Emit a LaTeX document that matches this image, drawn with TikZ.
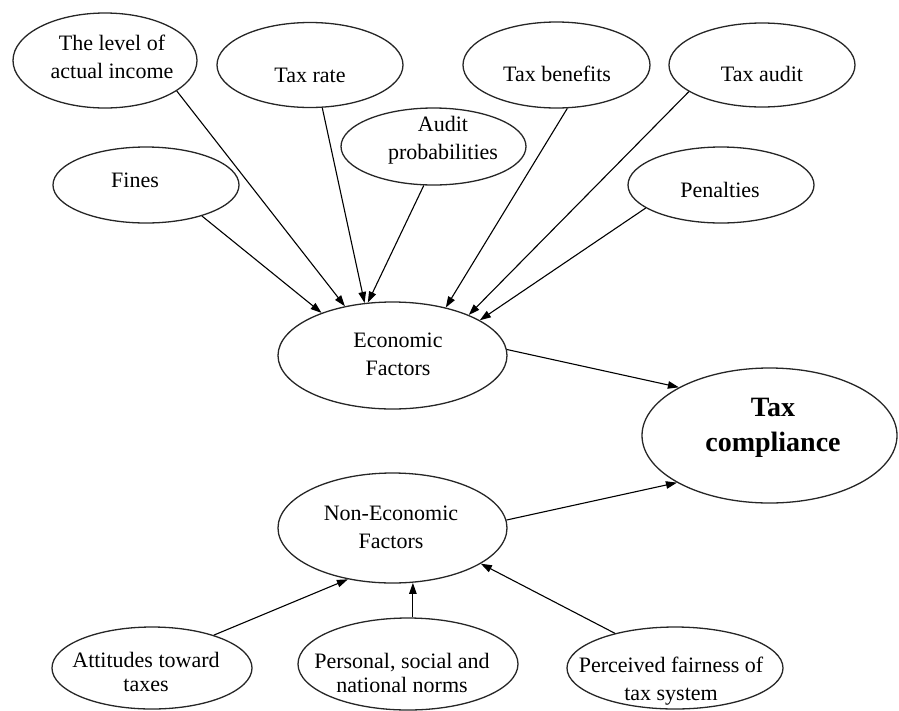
\documentclass[tikz,border=0pt]{standalone}
\usepackage{fontspec}
\setmainfont{Liberation Serif}
\usetikzlibrary{shapes.geometric,arrows.meta}
\begin{document}
\begin{tikzpicture}[x=1pt,y=-1pt,
  ell/.style={ellipse, draw=black!85, line width=1.3pt, inner sep=0pt},
  txt/.style={align=center, inner sep=0pt, font=\fontsize{22}{28}\selectfont},
  arr/.style={-{Triangle[length=11pt,width=7.5pt]}, line width=1.1pt, black}]
\useasboundingbox (0,0) rectangle (899,710);
% ellipses
\node[ell, minimum width=184, minimum height=95] (lev) at (105,60.5) {};
\node[ell, minimum width=186, minimum height=85] (rate) at (310,65) {};
\node[ell, minimum width=185, minimum height=77] (aud) at (433.5,146.5) {};
\node[ell, minimum width=187, minimum height=86] (ben) at (556.5,65) {};
\node[ell, minimum width=186, minimum height=84] (taud) at (762,65) {};
\node[ell, minimum width=186, minimum height=76] (fin) at (146,185) {};
\node[ell, minimum width=186, minimum height=76] (pen) at (721,185) {};
\node[ell, minimum width=229, minimum height=107] (eco) at (392.5,355.5) {};
\node[ell, minimum width=255, minimum height=135] (comp) at (769.5,435.5) {};
\node[ell, minimum width=229, minimum height=110] (non) at (392.5,528) {};
\node[ell, minimum width=200, minimum height=82] (att) at (152,668) {};
\node[ell, minimum width=220, minimum height=92] (nor) at (408,664) {};
\node[ell, minimum width=216, minimum height=82] (per) at (675,668) {};
% texts
\node[txt] (levt) at (112,57) {The level of\\actual income};
\node[txt] (ratet) at (310,75) {Tax rate};
\node[txt] (audt) at (443,140) {Audit\\probabilities};
\node[txt] (bent) at (557,74) {Tax benefits};
\node[txt] (taudt) at (762,74) {Tax audit};
\node[txt] (fint) at (135,180) {Fines};
\node[txt] (pent) at (720,190) {Penalties};
\node[txt] (ecot) at (398,354) {Economic\\Factors};
\node[txt, font=\bfseries\fontsize{28}{35}\selectfont] (compt) at (773,428) {Tax\\compliance};
\node[txt] (nont) at (391,527) {Non-Economic\\Factors};
\node[txt, font=\fontsize{22}{24}\selectfont] (attt) at (146,672) {Attitudes toward\\taxes};
\node[txt, font=\fontsize{22}{24}\selectfont] (nort) at (402,673) {Personal, social and\\national norms};
\node[txt] (pert) at (671,681) {Perceived fairness of\\tax system};
% connectors
\draw[arr] (fin.-29) -- (eco.149);
\draw[arr] (lev.-23) -- (eco.134);
\draw[arr] (rate.-74) -- (eco.118);
\draw[arr] (aud.-104.5) -- (eco.115);
\draw[arr] (ben.-76.6) -- (eco.42);
\draw[arr] (taud.-160) -- (eco.28);
\draw[arr] (pen.-163.4) -- (eco.22);
\draw[arr] (eco.3) -- (comp.152);
\draw[arr] (non.4) -- (comp.-153);
\draw[arr] (att.28) -- (non.-131);
\draw[arr] (nor.84) -- (nor.84 |- non.-71);
\draw[arr] (per.150) -- (non.-22);
\end{tikzpicture}
\end{document}
